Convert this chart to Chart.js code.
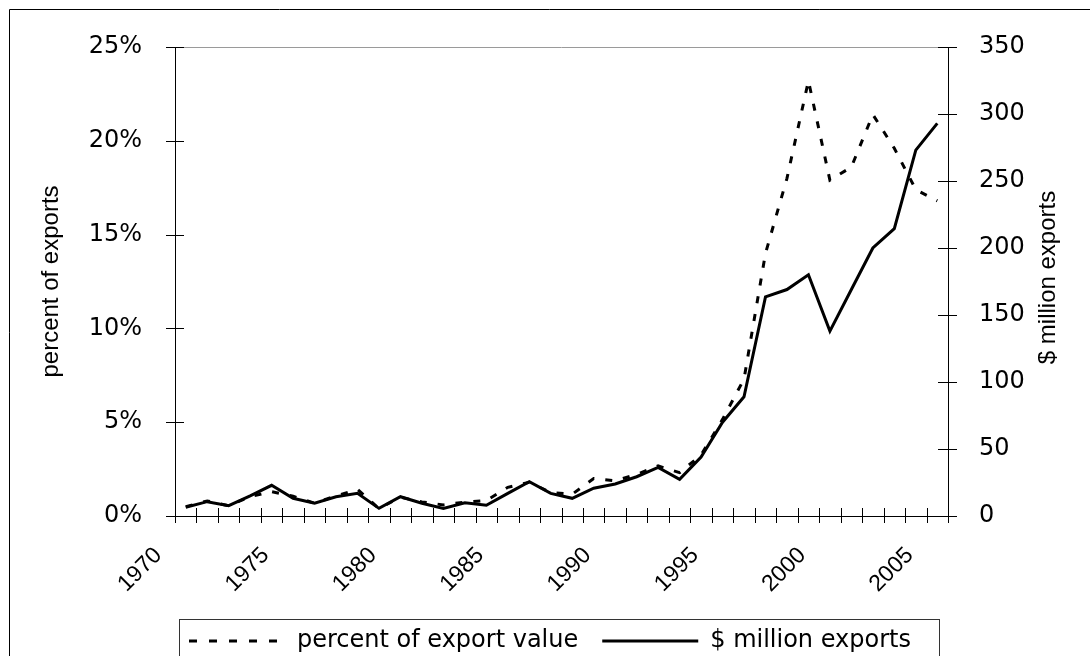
<!DOCTYPE html>
<html>
<head>
<meta charset="utf-8">
<script src="https://cdn.jsdelivr.net/npm/chart.js@4.4.1/dist/chart.umd.min.js"></script>
<style>
  html, body { margin: 0; padding: 0; background: #fff; overflow: hidden; }
</style>
</head>
<body>
<canvas id="chart" width="1090" height="656"></canvas>
<script>
// годы (категории оси X)
const YEARS = [
  1970, 1971, 1972, 1973, 1974, 1975, 1976, 1977, 1978, 1979,
  1980, 1981, 1982, 1983, 1984, 1985, 1986, 1987, 1988, 1989,
  1990, 1991, 1992, 1993, 1994, 1995, 1996, 1997, 1998, 1999,
  2000, 2001, 2002, 2003, 2004, 2005,
]

// доля в экспорте, %
const PERCENT = [
  0.50, 0.80, 0.55, 1.03, 1.30, 1.05, 0.68, 1.07, 1.42, 0.40,
  1.00, 0.75, 0.59, 0.74, 0.82, 1.53, 1.80, 1.25, 1.16, 2.00,
  1.88, 2.22, 2.67, 2.31, 3.25, 5.15, 7.3, 14.0, 18.0, 23.2,
  17.9, 18.6, 21.4, 19.6, 17.4, 16.8,
]

// экспорт, млн долларов
const MILLIONS = [
  6.5, 10.7, 7.7, 15, 22.9, 13.2, 9.5, 14.4, 16.9, 5.7,
  14.4, 9.5, 5.7, 9.9, 8.0, 16.9, 25.6, 16.9, 13.2, 20.7,
  23.9, 29.3, 36.3, 27.4, 44, 70, 89, 163.5, 169, 180,
  138, 169, 200, 214.5, 273, 293,
]

// подписи оси X
const X_LABELS = ["1970", "1975", "1980", "1985", "1990", "1995", "2000", "2005"]

// шрифты
const FONT = "'Liberation Sans', Arial, sans-serif"
const WIDE_FONT = "'DejaVu Sans', sans-serif"


// рамки, засечки и правый заголовок
const decor = {
  id: "decor",

  afterLayout(chart) {
    // ставим легенду как в оригинале (низ обрезан краем)
    const legend = chart.legend
    const height = legend.bottom - legend.top
    legend.left = chart.chartArea.left + 14 - legend.options.labels.padding
    legend.top = 605
    legend.bottom = 605 + height
  },

  afterDraw(chart) {
    const ctx = chart.ctx
    const area = chart.chartArea
    const x = chart.scales.x
    const y = chart.scales.y
    const y1 = chart.scales.y1

    ctx.save()

    // внешняя рамка (видны только верх и левый край)
    ctx.strokeStyle = "#000"
    ctx.lineWidth = 1
    ctx.beginPath()
    ctx.moveTo(9.5, 656)
    ctx.lineTo(9.5, 9.5)
    ctx.lineTo(1090, 9.5)
    ctx.stroke()

    // верхняя граница области
    ctx.strokeStyle = "#9a9a9a"
    ctx.beginPath()
    ctx.moveTo(area.left, area.top + 0.5)
    ctx.lineTo(area.right, area.top + 0.5)
    ctx.stroke()

    // засечки
    ctx.strokeStyle = "#000"
    ctx.beginPath()
    for (let i = 0; i <= YEARS.length; i++) {
      const px = Math.round(x.getPixelForValue(i - 0.5)) + 0.5
      ctx.moveTo(px, area.bottom - 8)
      ctx.lineTo(px, area.bottom + 7)
    }
    y.ticks.forEach(function (t) {
      const py = Math.round(y.getPixelForValue(t.value)) + 0.5
      ctx.moveTo(area.left - 9, py)
      ctx.lineTo(area.left + 9, py)
    })
    y1.ticks.forEach(function (t) {
      const py = Math.round(y1.getPixelForValue(t.value)) + 0.5
      ctx.moveTo(area.right - 10, py)
      ctx.lineTo(area.right + 9, py)
    })
    ctx.stroke()

    // правый заголовок
    ctx.fillStyle = "#000"
    ctx.font = "24px " + FONT
    ctx.textAlign = "center"
    ctx.textBaseline = "middle"
    ctx.translate(1048, (area.top + area.bottom) / 2 - 4)
    ctx.rotate(-Math.PI / 2)
    ctx.fillText("$ million exports", 0, 0)
    ctx.restore()

    // рамка легенды
    ctx.save()
    ctx.strokeStyle = "#333"
    ctx.lineWidth = 1
    ctx.strokeRect(179.5, 619.5, 760, 50)
    ctx.restore()
  },
}


// создаём график
new Chart(document.getElementById("chart"), {
  type: "line",
  data: {
    labels: YEARS.map(String),
    datasets: [
      {
        label: "percent of export value",
        data: PERCENT,
        yAxisID: "y",
        borderColor: "#000",
        backgroundColor: "#000",
        borderWidth: 3,
        borderDash: [7, 11],
        pointRadius: 0,
        tension: 0,
      },
      {
        label: "$ million exports",
        data: MILLIONS,
        yAxisID: "y1",
        borderColor: "#000",
        backgroundColor: "#000",
        borderWidth: 3,
        pointRadius: 0,
        tension: 0,
      },
    ],
  },
  options: {
    responsive: false,
    animation: false,
    devicePixelRatio: 1,
    layout: { padding: { left: 9, right: 9, top: 47, bottom: 0 } },
    plugins: {
      tooltip: { enabled: false },
      legend: {
        position: "bottom",
        align: "start",
        labels: {
          color: "#000",
          font: { family: WIDE_FONT, size: 24 },
          usePointStyle: true,
          pointStyle: "line",
          pointStyleWidth: 96,
          padding: 24,
          // штрих в легенде как в оригинале
          generateLabels: function (chart) {
            const items = Chart.defaults.plugins.legend.labels.generateLabels(chart)
            items.forEach(function (item) {
              const dash = chart.data.datasets[item.datasetIndex].borderDash
              item.lineDash = dash ? [8, 12] : []
              item.lineWidth = 3
            })
            return items
          },
        },
      },
    },
    scales: {
      x: {
        offset: true,
        grid: { display: false },
        border: { display: true, color: "#000", width: 1 },
        afterFit: function (scale) { scale.height = 82 },
        ticks: {
          autoSkip: false,
          maxRotation: 45,
          minRotation: 45,
          labelOffset: -27.5,
          padding: 18,
          color: "#000",
          font: { family: FONT, size: 23 },
          callback: function (value) {
            const label = this.getLabelForValue(value)
            return X_LABELS.includes(label) ? label : ""
          },
        },
      },
      y: {
        position: "left",
        min: 0,
        max: 25,
        grid: { display: false },
        border: { display: true, color: "#000", width: 1 },
        afterFit: function (scale) { scale.width = 166 },
        ticks: {
          stepSize: 5,
          padding: 25,
          color: "#000",
          font: { family: WIDE_FONT, size: 24 },
          callback: function (value) { return value + "%" },
        },
        title: {
          display: true,
          text: "percent of exports",
          color: "#000",
          font: { family: FONT, size: 24 },
          padding: { top: 28 },
        },
      },
      y1: {
        position: "right",
        min: 0,
        max: 350,
        grid: { display: false },
        border: { display: true, color: "#000", width: 1 },
        afterFit: function (scale) { scale.width = 133 },
        ticks: {
          stepSize: 50,
          padding: 23,
          color: "#000",
          font: { family: WIDE_FONT, size: 24 },
        },
      },
    },
  },
  plugins: [decor],
})
</script>
</body>
</html>
